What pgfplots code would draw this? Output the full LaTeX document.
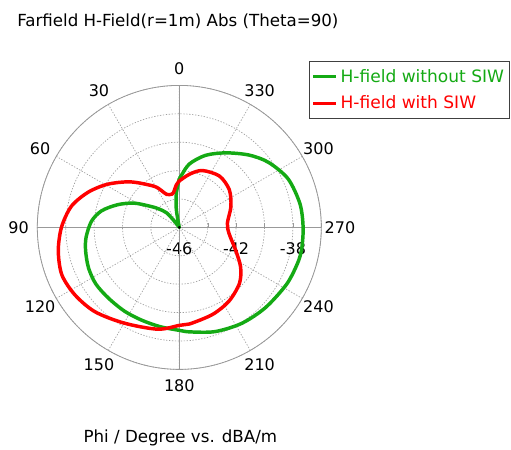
\documentclass[border=0pt]{standalone}
\usepackage{pgfplots}
\pgfplotsset{compat=1.18}
\usepackage{pgfplotstable}
\usepgfplotslibrary{polar}
\usepackage{fontspec}
\setmainfont{DejaVu Sans}
\definecolor{cgreen}{RGB}{20,170,20}
\definecolor{cred}{RGB}{255,0,0}

% phi in degrees (0 at top, counter-clockwise), value in dBA/m
\pgfplotstableread{
phi db
0 -42.55
5 -43.6
9 -44.6
11 -45.5
13 -46.0
13 -46.0
38 -45.5
41 -44.65
48 -44.05
54 -43.47
62 -42.35
70 -41.35
78 -40.4
86 -39.8
96 -39.4
104 -39.2
114 -39.0
124 -38.9
135 -38.95
147 -38.95
158 -38.95
169 -38.88
180 -38.75
186 -38.6
199 -38.24
213 -37.94
227 -37.71
242 -37.45
253 -37.3
260 -37.25
270 -37.28
281 -37.34
294 -37.61
306 -38.22
316 -38.92
328 -39.81
340 -40.6
351 -41.48
358 -42.37
360 -42.55
}\greendata

\pgfplotstableread{
phi db
0 -42.73
4 -43.0
8 -43.4
12 -43.6
21 -43.51
26 -43.1
32 -42.57
47 -41.3
59 -40.1
69 -39.11
79 -38.25
90 -37.7
101 -37.32
112 -37.08
123 -37.25
135 -37.6
150 -38.22
168 -38.67
180 -39.1
186 -39.16
201 -39.44
214 -39.74
227 -40.21
237 -40.85
248 -41.72
263 -42.47
275 -42.6
292 -42.08
307 -41.59
322 -41.41
338 -41.68
349 -42.18
360 -42.73
}\reddata

\begin{document}
\begin{tikzpicture}[x=0.75pt,y=0.75pt]
\begin{polaraxis}[
  scale only axis,
  width=213pt, height=213pt,
  ymin=0, ymax=10,
  xtick={0,30,...,330},
  xticklabels={270,300,330,0,30,60,90,120,150,180,210,240},
  ytick={0,2,4,6,8,10},
  yticklabels={-46,,-42,,-38,},
  extra x ticks={0,90,180,270},
  extra x tick labels={},
  extra x tick style={major grid style={solid, gray!80, line width=0.6pt}},
  grid=major,
  major grid style={gray!75, line width=0.5pt, dash pattern=on 1pt off 1.2pt},
  axis line style={gray!80, line width=0.6pt},
  xtick style={draw=none},
  ytick style={gray!80},
  major tick length=3pt,
  tick label style={font=\fontsize{12}{14}\selectfont, text=black},
  xticklabel style={anchor=center, inner sep=0pt, xshift={14*cos(\tick)}, yshift={12.3*sin(\tick)}},
  yticklabel style={anchor=north, yshift=-8pt},
  legend style={draw=black!75, line width=0.8pt,
    font=\fontsize{12.8}{15.4}\selectfont,
    at={([shift={(248pt,124.5pt)}]axis cs:0,0)}, anchor=north east,
    inner xsep=2pt, inner ysep=3.5pt, row sep=4.8pt,
    cells={anchor=west}},
  legend image code/.code={\draw[#1, line width=2.6pt] (0pt,0pt) -- (17pt,0pt);},
]
\addplot[cgreen, line width=2.6pt, line join=round, smooth, tension=0.5] table[x expr=\thisrow{phi}+90, y expr=\thisrow{db}+46] {\greendata};
\addlegendentry{\textcolor{cgreen}{H-field without SIW}}
\addplot[cred, line width=2.6pt, line join=round, smooth, tension=0.5] table[x expr=\thisrow{phi}+90, y expr=\thisrow{db}+46] {\reddata};
\addlegendentry{\textcolor{cred}{H-field with SIW}}
\coordinate (C) at (axis cs:0,0);
\end{polaraxis}
\fill[black] (C) circle (1.5);
\path (C) ++(-162.3,200.9) node[anchor=base west, inner sep=0pt, font=\fontsize{12.5}{15}\selectfont] {Farfield H-Field(r=1m) Abs (Theta=90)};
\path (C) ++(-96,-215.3) node[anchor=base west, inner sep=0pt, font=\fontsize{12.5}{15}\selectfont] {Phi / Degree vs. dBA/m};
\pgfresetboundingbox
\useasboundingbox (C) ++(-179.3,-222.6) rectangle ++(511,450);
\end{tikzpicture}
\end{document}
